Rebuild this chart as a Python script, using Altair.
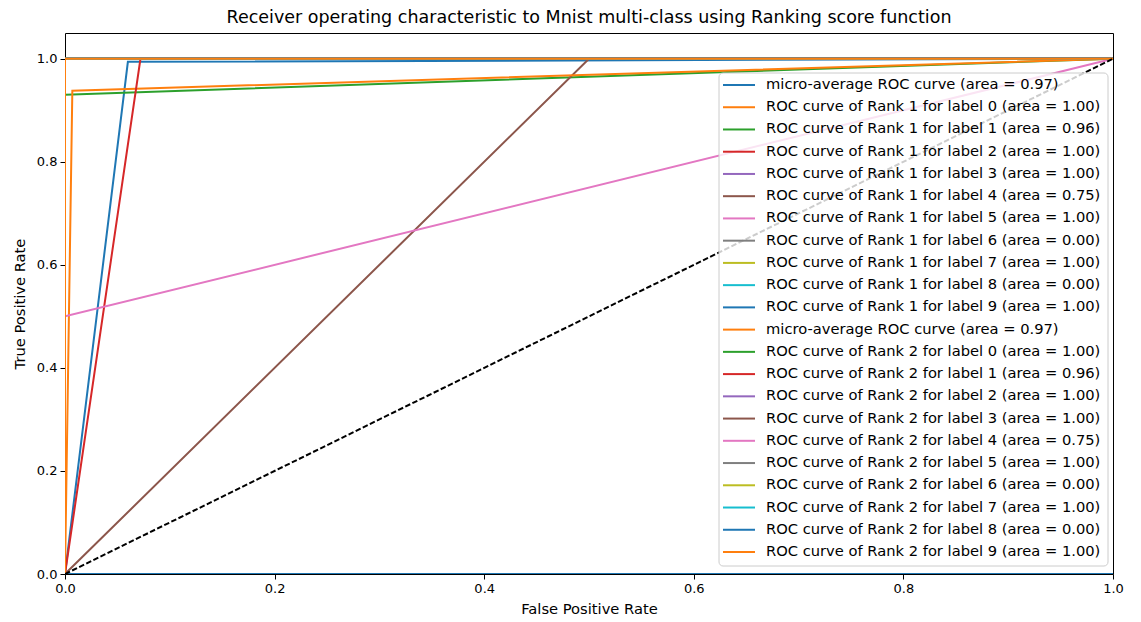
import altair as alt
import pandas as pd

# tab10 colour cycle
TAB10 = ["#1f77b4", "#ff7f0e", "#2ca02c", "#d62728", "#9467bd",
         "#8c564b", "#e377c2", "#7f7f7f", "#bcbd22", "#17becf"]

# Legend labels in plotting order (a trailing space keeps the repeated
# micro-average label unique in the colour domain)
labels = [
    "micro-average ROC curve (area = 0.97)",
    "ROC curve of Rank 1 for label 0 (area = 1.00)",
    "ROC curve of Rank 1 for label 1 (area = 0.96)",
    "ROC curve of Rank 1 for label 2 (area = 1.00)",
    "ROC curve of Rank 1 for label 3 (area = 1.00)",
    "ROC curve of Rank 1 for label 4 (area = 0.75)",
    "ROC curve of Rank 1 for label 5 (area = 1.00)",
    "ROC curve of Rank 1 for label 6 (area = 0.00)",
    "ROC curve of Rank 1 for label 7 (area = 1.00)",
    "ROC curve of Rank 1 for label 8 (area = 0.00)",
    "ROC curve of Rank 1 for label 9 (area = 1.00)",
    "micro-average ROC curve (area = 0.97) ",
    "ROC curve of Rank 2 for label 0 (area = 1.00)",
    "ROC curve of Rank 2 for label 1 (area = 0.96)",
    "ROC curve of Rank 2 for label 2 (area = 1.00)",
    "ROC curve of Rank 2 for label 3 (area = 1.00)",
    "ROC curve of Rank 2 for label 4 (area = 0.75)",
    "ROC curve of Rank 2 for label 5 (area = 1.00)",
    "ROC curve of Rank 2 for label 6 (area = 0.00)",
    "ROC curve of Rank 2 for label 7 (area = 1.00)",
    "ROC curve of Rank 2 for label 8 (area = 0.00)",
    "ROC curve of Rank 2 for label 9 (area = 1.00)",
]

# False / true positive rates for each curve
fpr = [
    [0.0, 0.060, 1.0],
    [0.0, 0.0, 1.0],
    [0.0, 0.0, 1.0],
    [0.0, 0.0, 1.0],
    [0.0, 0.0, 1.0],
    [0.0, 0.5, 1.0],
    [0.0, 0.0, 1.0],
    [0.0, 1.0],
    [0.0, 0.0, 1.0],
    [0.0, 1.0],
    [0.0, 0.0, 1.0],
    [0.0, 0.007, 1.0],
    [0.0, 0.0, 1.0],
    [0.0, 0.072, 1.0],
    [0.0, 0.0, 1.0],
    [0.0, 0.0, 1.0],
    [0.0, 0.0, 1.0],
    [0.0, 0.0, 1.0],
    [0.0, 1.0],
    [0.0, 0.0, 1.0],
    [0.0, 1.0],
    [0.0, 0.0, 1.0],
]
tpr = [
    [0.0, 0.994, 1.0],
    [0.0, 1.0, 1.0],
    [0.0, 0.930, 1.0],
    [0.0, 1.0, 1.0],
    [0.0, 1.0, 1.0],
    [0.0, 1.0, 1.0],
    [0.0, 1.0, 1.0],
    [0.0, 0.0],
    [0.0, 1.0, 1.0],
    [0.0, 0.0],
    [0.0, 1.0, 1.0],
    [0.0, 0.938, 1.0],
    [0.0, 1.0, 1.0],
    [0.0, 1.0, 1.0],
    [0.0, 1.0, 1.0],
    [0.0, 1.0, 1.0],
    [0.0, 0.5, 1.0],
    [0.0, 1.0, 1.0],
    [0.0, 0.0],
    [0.0, 1.0, 1.0],
    [0.0, 0.0],
    [0.0, 1.0, 1.0],
]

# chance diagonal
diag_x = [0.0, 1.0]
diag_y = [0.0, 1.0]

rows = []
for i, name in enumerate(labels):
    for j, (fx, ty) in enumerate(zip(fpr[i], tpr[i])):
        rows.append({"series": name, "k": i, "step": j, "fpr": fx, "tpr": ty})
df = pd.DataFrame(rows)
legend_df = pd.DataFrame({"series": labels, "k": list(range(len(labels)))})
colors = [TAB10[i % 10] for i in range(len(labels))]
color_scale = alt.Scale(domain=labels, range=colors)

W, H = 1048, 541
TICKS = [0, 0.2, 0.4, 0.6, 0.8, 1.0]

x_enc = alt.X("fpr:Q", scale=alt.Scale(domain=[0, 1], nice=False, zero=False),
              axis=alt.Axis(title="False Positive Rate", values=TICKS, format=".1f",
                            labelFlush=False))
y_enc = alt.Y("tpr:Q", scale=alt.Scale(domain=[0, 1.05], nice=False, zero=False),
              axis=alt.Axis(title="True Positive Rate", values=TICKS, format=".1f",
                            labelFlush=False))

curves = alt.Chart(df).mark_line(strokeWidth=2, clip=True).encode(
    x=x_enc,
    y=y_enc,
    color=alt.Color("series:N", scale=color_scale, legend=None),
    order=alt.Order("step:Q"),
)

diag = alt.Chart(pd.DataFrame({"fpr": diag_x, "tpr": diag_y})).mark_line(
    color="black", strokeWidth=2, strokeDash=[5.5, 2.4], clip=True
).encode(x="fpr:Q", y="tpr:Q")

plot = alt.layer(curves, diag)

# legend: framed box in the lower right, one row per curve
row_y = alt.Y("k:Q", scale=alt.Scale(domain=[0, len(labels) - 1], range=[52, 519]),
              axis=None)

legend_box = alt.Chart(pd.DataFrame({"a": [0]})).mark_rect(
    fill="white", fillOpacity=0.8, stroke="#cccccc", strokeWidth=1, cornerRadius=4
).encode(
    x=alt.value(654), x2=alt.value(1043), y=alt.value(40), y2=alt.value(533),
)

legend_lines = alt.Chart(legend_df).mark_rule(strokeWidth=2).encode(
    x=alt.value(658), x2=alt.value(690),
    y=row_y,
    color=alt.Color("series:N", scale=color_scale, legend=None),
)

legend_text = alt.Chart(legend_df).mark_text(
    align="left", baseline="middle", font="DejaVu Sans", fontSize=14.7, color="black"
).encode(
    x=alt.value(701),
    y=row_y,
    text="series:N",
)

chart = alt.layer(plot, legend_box, legend_lines, legend_text).resolve_scale(
    y="independent"
).properties(
    width=W,
    height=H,
    title=alt.TitleParams(
        "Receiver operating characteristic to Mnist multi-class using Ranking score function",
        fontSize=17.5, font="DejaVu Sans", fontWeight="normal", color="black",
        anchor="middle", offset=7,
    ),
    padding={"left": 65, "top": 33, "right": 28, "bottom": 48},
    autosize=alt.AutoSizeParams(type="none"),
).configure_view(
    stroke="black", strokeWidth=1
).configure_axis(
    grid=False, domain=False,
    labelFont="DejaVu Sans", labelFontSize=13, labelColor="black",
    titleFont="DejaVu Sans", titleFontSize=14.7, titleFontWeight="normal", titleColor="black",
    tickColor="black", tickSize=5, tickWidth=1, labelPadding=3,
).configure_axisX(
    titlePadding=6,
).configure_axisY(
    titlePadding=9,
)

chart.save("out.html", embed_options={"renderer": "svg", "actions": False})
